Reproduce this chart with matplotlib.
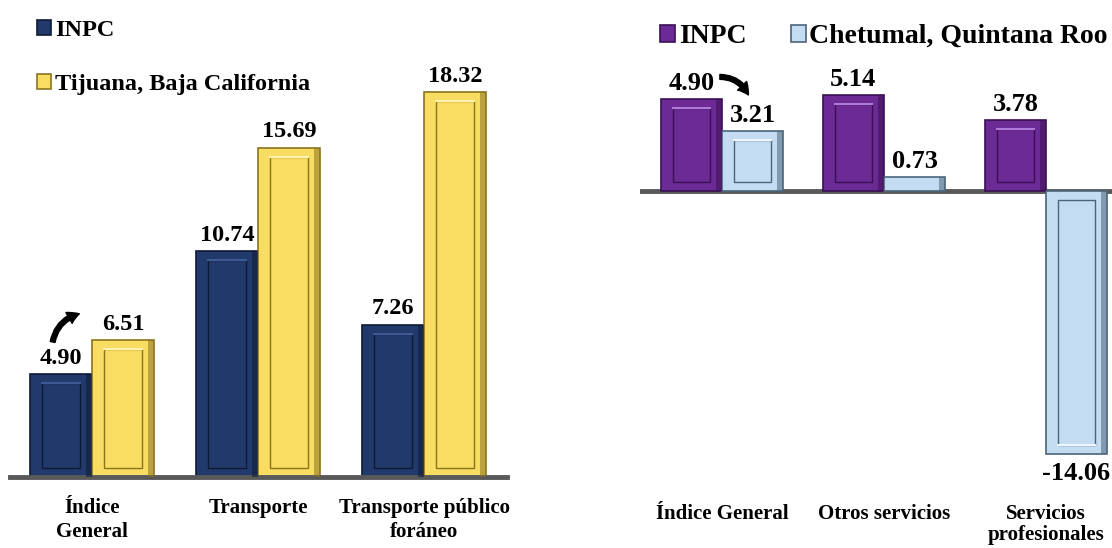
import numpy as np
import matplotlib
matplotlib.use('Agg')
import matplotlib.pyplot as plt
from matplotlib.patches import Rectangle

plt.rcParams['font.family'] = ['Liberation Serif', 'DejaVu Serif']
plt.rcParams['font.weight'] = 'bold'

# datos panel izquierdo
cats_left = ['Índice\nGeneral', 'Transporte', 'Transporte público\nforáneo']
inpc_left = [4.90, 10.74, 7.26]
tijuana = [6.51, 15.69, 18.32]

# datos panel derecho
cats_right = ['Índice General', 'Otros servicios', 'Servicios\nprofesionales']
inpc_right = [4.90, 5.14, 3.78]
chetumal = [3.21, 0.73, -14.06]

W, H = 1112, 548
fig = plt.figure(figsize=(W / 100, H / 100), dpi=100)


def bevel(ax, bars, face, dark, light, px_per_unit):
    # simula el efecto biselado de las barras
    for b in bars:
        x, y, w, h = b.get_x(), b.get_y(), b.get_width(), b.get_height()
        b.set_edgecolor(dark)
        b.set_linewidth(1.2)
        inset_y = 9 / px_per_unit
        # franja oscura a la derecha
        ax.add_patch(Rectangle((x + w * 0.9, y), w * 0.1, h, facecolor=dark,
                               edgecolor='none', alpha=0.55, zorder=3))
        if abs(h) > 2.6 * inset_y:
            sgn = 1 if h > 0 else -1
            ax.add_patch(Rectangle((x + w * 0.2, y + sgn * inset_y), w * 0.6,
                                   h - 2 * sgn * inset_y, facecolor=face,
                                   edgecolor=dark, linewidth=1.0, zorder=4))
            ax.plot([x + w * 0.2, x + w * 0.8], [y + h - sgn * inset_y] * 2,
                    color=light, lw=1.5, zorder=5)


# ---------- panel izquierdo ----------
axL = fig.add_axes([10 / W, 1 - 477 / H, 497 / W, 417 / H])
xl = np.arange(len(cats_left))
bw = 0.373
pxL = 21.0
b1 = axL.bar(xl - bw / 2, inpc_left, bw, color='#223a6b', label='INPC', zorder=2)
b2 = axL.bar(xl + bw / 2, tijuana, bw, color='#f9dc62', label='Tijuana, Baja California', zorder=2)
bevel(axL, b1, '#223a6b', '#0e1a33', '#3d5a94', pxL)
bevel(axL, b2, '#f9dc62', '#8a7420', '#fff2b0', pxL)
axL.set_xlim(-0.494, 2.5)
axL.set_ylim(0, 417 / pxL)
for bars, vals in [(b1, inpc_left), (b2, tijuana)]:
    for b, v in zip(bars, vals):
        axL.annotate(f'{v:.2f}', (b.get_x() + b.get_width() / 2, v), xytext=(0, 4),
                     textcoords='offset points', ha='center', va='bottom',
                     fontsize=17.5, fontweight='bold', zorder=6)
axL.set_xticks(xl)
axL.set_xticklabels(cats_left, fontsize=15, fontweight='bold', linespacing=1.25)
axL.tick_params(axis='x', length=0, pad=15)
axL.set_yticks([])
for s in ['top', 'left', 'right']:
    axL.spines[s].set_visible(False)
axL.spines['bottom'].set_color('#595959')
axL.spines['bottom'].set_linewidth(3.5)
axL.annotate('', xy=(-0.06, 7.8), xytext=(-0.24, 6.3),
             arrowprops=dict(arrowstyle='simple,head_width=0.9,head_length=0.8,tail_width=0.35',
                             connectionstyle='arc3,rad=-0.35', color='black'), zorder=7)
fig.legend(handles=[b1, b2], loc='upper left', bbox_to_anchor=(15 / W, 1 + 2 / H),
           frameon=False, prop={'size': 17.5, 'weight': 'bold'}, handlelength=0.6,
           handleheight=0.6, handletextpad=0.15, labelspacing=1.35)

# ---------- panel derecho ----------
axR = fig.add_axes([640 / W, 1 - 497 / H, 472 / W, 437 / H])
xr = np.arange(len(cats_right))
bw2 = 0.377
pxR = 18.7
c1 = axR.bar(xr - bw2 / 2, inpc_right, bw2, color='#6b2a94', label='INPC', zorder=2)
c2 = axR.bar(xr + bw2 / 2, chetumal, bw2, color='#c4dcf1', label='Chetumal, Quintana Roo', zorder=2)
bevel(axR, c1, '#6b2a94', '#3a1055', '#b07ad8', pxR)
bevel(axR, c2, '#c4dcf1', '#4d6478', '#eef6fd', pxR)
axR.set_xlim(-0.506, 2.408)
axR.set_ylim(-306 / pxR, 131 / pxR)
axR.axhline(0, color='#595959', lw=3.5, zorder=1)
for bars, vals in [(c1, inpc_right), (c2, chetumal)]:
    for b, v in zip(bars, vals):
        off = 3 if v >= 0 else -6
        axR.annotate(f'{v:.2f}', (b.get_x() + b.get_width() / 2, v), xytext=(0, off),
                     textcoords='offset points', ha='center',
                     va='bottom' if v >= 0 else 'top',
                     fontsize=19, fontweight='bold', zorder=6)
axR.set_xticks(xr)
axR.set_xticklabels(cats_right, fontsize=15, fontweight='bold', linespacing=1.05)
axR.tick_params(axis='x', length=0, pad=5)
axR.set_yticks([])
for s in axR.spines.values():
    s.set_visible(False)
axR.annotate('', xy=(0.17, 5.0), xytext=(-0.03, 6.1),
             arrowprops=dict(arrowstyle='simple,head_width=0.9,head_length=0.8,tail_width=0.35',
                             connectionstyle='arc3,rad=-0.35', color='black'), zorder=7)
fig.legend(handles=[c1, c2], loc='upper center', bbox_to_anchor=(884 / W, 1 + 1 / H),
           ncol=2, frameon=False, prop={'size': 20, 'weight': 'bold'}, handlelength=0.55,
           handleheight=0.55, handletextpad=0.12, columnspacing=1.6)

fig.savefig('out.png', dpi=100)
